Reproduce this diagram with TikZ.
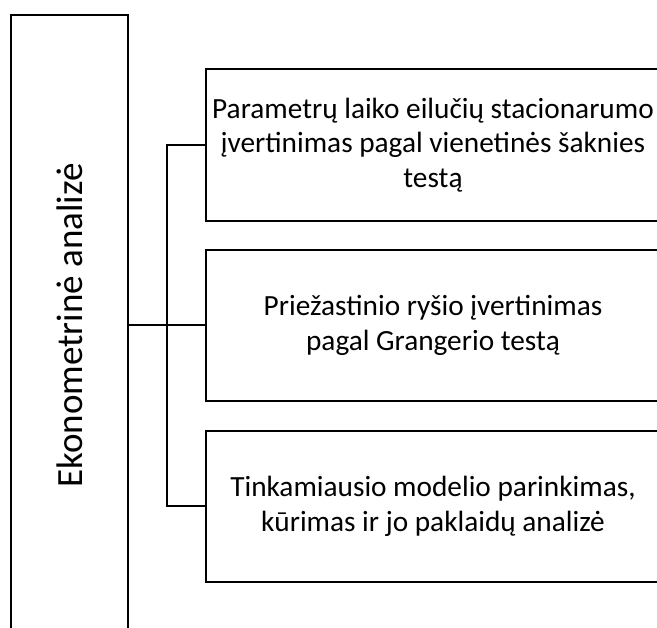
\documentclass[tikz,border=0pt]{standalone}
\usepackage{fontspec}
\setmainfont{Carlito}
\begin{document}
\begin{tikzpicture}[x=1pt,y=-1pt,
  frame/.style={draw=black,line width=2pt,inner sep=0pt,outer sep=0pt},
  link/.style={draw=black,line width=2pt},
  boxtext/.style={font=\fontsize{29.3}{34.5}\selectfont,align=center},
  titletext/.style={font=\fontsize{37}{45}\selectfont,rotate=90}]
\useasboundingbox (0,0) rectangle (657,628);
\clip (0,0) rectangle (657,628);
% tall box on the left
\node[frame,minimum width=117pt,minimum height=621pt] (main) at (69.5,325.5) {};
\node[titletext] (title) at (main.center) {Ekonometrinė analizė};
% three boxes on the right
\node[frame,boxtext,minimum width=454pt,minimum height=152pt] (b1) at (433,145)
  {Parametrų laiko eilučių stacionarumo\\įvertinimas pagal vienetinės šaknies\\testą};
\node[frame,boxtext,minimum width=454pt,minimum height=151pt] (b2) at (433,325.5)
  {Priežastinio ryšio įvertinimas\\pagal Grangerio testą};
\node[frame,boxtext,minimum width=454pt,minimum height=151pt] (b3) at (433,506.5)
  {Tinkamiausio modelio parinkimas,\\kūrimas ir jo paklaidų analizė};
% connectors
\draw[link] (main.east) -- (b2.west);
\draw[link] (b1.west) -- ++(-39,0) |- (b3.west);
\end{tikzpicture}
\end{document}
